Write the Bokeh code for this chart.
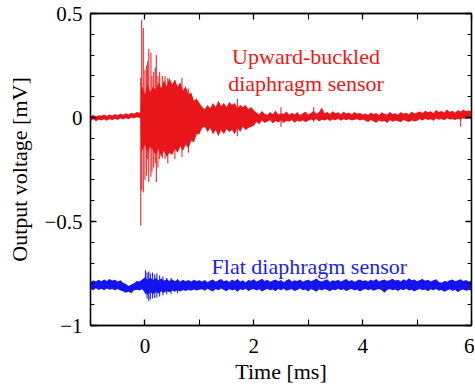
from bokeh.plotting import figure
from bokeh.models import Range1d, LinearAxis, FixedTicker
from bokeh.core.properties import value
from bokeh.embed import file_html
from bokeh.resources import INLINE

# ---------------- data (time in ms, voltage in mV) ----------------
# Upward-buckled sensor: upper / lower envelope of the dense trace
red_t = [-1.00, -0.95, -0.90, -0.85, -0.80, -0.75, -0.70, -0.65, -0.60, -0.55,
         -0.50, -0.45, -0.40, -0.35, -0.30, -0.25, -0.20, -0.15, -0.10, -0.08,
         -0.07, -0.05,
         0.00, 0.05, 0.10, 0.15, 0.20, 0.25, 0.30, 0.35, 0.40, 0.45,
         0.50, 0.55, 0.60, 0.65, 0.70, 0.75, 0.80, 0.85, 0.90, 0.95,
         1.00, 1.05, 1.10, 1.15, 1.20, 1.25, 1.30, 1.35, 1.40, 1.45,
         1.50, 1.55, 1.60, 1.65, 1.70, 1.75, 1.80, 1.85, 1.90, 1.95,
         2.00, 2.05, 2.10, 2.15, 2.20, 2.25, 2.30, 2.35, 2.40, 2.45,
         2.50, 2.55, 2.60, 2.65, 2.70, 2.75, 2.80, 2.85, 2.90, 2.95,
         3.00, 3.05, 3.10, 3.15, 3.20, 3.25, 3.30, 3.35, 3.40, 3.45,
         3.50, 3.55, 3.60, 3.65, 3.70, 3.75, 3.80, 3.85, 3.90, 3.95,
         4.00, 4.05, 4.10, 4.15, 4.20, 4.25, 4.30, 4.35, 4.40, 4.45,
         4.50, 4.55, 4.60, 4.65, 4.70, 4.75, 4.80, 4.85, 4.90, 4.95,
         5.00, 5.05, 5.10, 5.15, 5.20, 5.25, 5.30, 5.35, 5.40, 5.45,
         5.50, 5.55, 5.60, 5.65, 5.70, 5.75, 5.80, 5.85, 5.90, 5.95, 6.00]
red_hi = [0.006, 0.013, 0.004, 0.011, 0.008, 0.015, 0.007, 0.014, 0.010, 0.017,
          0.011, 0.019, 0.012, 0.021, 0.015, 0.023, 0.018, 0.026, 0.023, 0.026,
          0.13, 0.15,
          0.11, 0.16, 0.12, 0.15, 0.13, 0.17, 0.14, 0.18, 0.15, 0.19,
          0.16, 0.18, 0.15, 0.17, 0.13, 0.15, 0.11, 0.12, 0.08, 0.09,
          0.07, 0.05, 0.04, 0.06, 0.045, 0.07, 0.05, 0.08, 0.055, 0.07,
          0.05, 0.075, 0.06, 0.07, 0.045, 0.06, 0.05, 0.06, 0.04, 0.05,
          0.035, 0.024, 0.015, 0.031, 0.018, 0.012, 0.027, 0.016, 0.034, 0.014,
          0.021, 0.017, 0.029, 0.013, 0.023, 0.015, 0.026, 0.011, 0.021, 0.028,
          0.015, 0.022, 0.032, 0.018, 0.026, 0.048, 0.020, 0.027, 0.017, 0.030,
          0.021, 0.025, 0.016, 0.028, 0.019, 0.024, 0.014, 0.026, 0.018, 0.022,
          0.015, 0.019, 0.012, 0.024, 0.016, 0.022, 0.011, 0.025, 0.018, 0.014,
          0.027, 0.017, 0.021, 0.013, 0.026, 0.018, 0.023, 0.015, 0.029, 0.019,
          0.024, 0.029, 0.022, 0.033, 0.025, 0.030, 0.021, 0.036, 0.027, 0.031,
          0.024, 0.038, 0.027, 0.032, 0.023, 0.036, 0.028, 0.039, 0.030, 0.034, 0.031]
red_lo = [-0.017, -0.009, -0.018, -0.011, -0.015, -0.008, -0.016, -0.007, -0.013, -0.006,
          -0.012, -0.004, -0.010, -0.003, -0.008, 0.000, -0.005, 0.002, -0.003, -0.003,
          -0.14, -0.16,
          -0.13, -0.17, -0.14, -0.16, -0.18, -0.15, -0.19, -0.16, -0.19, -0.17,
          -0.18, -0.15, -0.17, -0.14, -0.16, -0.13, -0.15, -0.11, -0.12, -0.08,
          -0.08, -0.05, -0.045, -0.07, -0.05, -0.08, -0.06, -0.09, -0.06, -0.08,
          -0.055, -0.07, -0.06, -0.08, -0.05, -0.07, -0.045, -0.06, -0.05, -0.045,
          -0.04, -0.022, -0.032, -0.015, -0.027, -0.019, -0.013, -0.029, -0.017, -0.024,
          -0.014, -0.027, -0.016, -0.021, -0.012, -0.025, -0.016, -0.020, -0.013, -0.023,
          -0.016, -0.010, -0.016, -0.007, -0.019, -0.011, -0.014, -0.008, -0.017, -0.010,
          -0.013, -0.006, -0.016, -0.009, -0.013, -0.008, -0.015, -0.011, -0.009, -0.014,
          -0.010, -0.016, -0.022, -0.012, -0.019, -0.025, -0.014, -0.020, -0.017, -0.027,
          -0.013, -0.021, -0.015, -0.018, -0.023, -0.012, -0.017, -0.022, -0.014, -0.019,
          -0.016, -0.009, -0.014, -0.006, -0.012, -0.008, -0.016, -0.005, -0.011, -0.007,
          -0.013, -0.004, -0.010, -0.008, -0.012, -0.006, -0.011, -0.003, -0.009, -0.005, -0.007]

# Upward-buckled sensor: isolated large swings
red_spike_t = [-0.077, -0.06, -0.03, 0.00, 0.03, 0.05, 0.07, 0.11, 0.13, 0.16,
               0.19, 0.21, 0.24, 0.27, 0.32, 0.37, 0.42, 0.55, 0.68, 0.80,
               1.70, 2.50, 3.10, 5.80]
red_spike_hi = [0.19, 0.47, 0.43, 0.23, 0.25, 0.27, 0.33, 0.31, 0.20, 0.22,
                0.24, 0.30, 0.20, 0.22, 0.20, 0.20, 0.19, 0.18, 0.19, 0.14,
                0.09, 0.05, 0.05, 0.03]
red_spike_lo = [-0.52, -0.35, -0.36, -0.30, -0.28, -0.20, -0.31, -0.285, -0.26, -0.24,
                -0.22, -0.31, -0.24, -0.20, -0.195, -0.20, -0.22, -0.20, -0.19, -0.17,
                -0.09, -0.045, -0.02, -0.045]

# Flat sensor: upper / lower envelope of the dense trace
blue_t = [-1.00, -0.95, -0.90, -0.85, -0.80, -0.75, -0.70, -0.65, -0.60, -0.55,
          -0.50, -0.45, -0.40, -0.35, -0.30, -0.25, -0.20, -0.15, -0.10, -0.05,
          0.00, 0.05, 0.10, 0.15, 0.20, 0.25, 0.30, 0.35, 0.40, 0.45,
          0.50, 0.55, 0.60, 0.65, 0.70, 0.75, 0.80, 0.85, 0.90, 0.95,
          1.00, 1.05, 1.10, 1.15, 1.20, 1.25, 1.30, 1.35, 1.40, 1.45,
          1.50, 1.55, 1.60, 1.65, 1.70, 1.75, 1.80, 1.85, 1.90, 1.95,
          2.00, 2.05, 2.10, 2.15, 2.20, 2.25, 2.30, 2.35, 2.40, 2.45,
          2.50, 2.55, 2.60, 2.65, 2.70, 2.75, 2.80, 2.85, 2.90, 2.95,
          3.00, 3.05, 3.10, 3.15, 3.20, 3.25, 3.30, 3.35, 3.40, 3.45,
          3.50, 3.55, 3.60, 3.65, 3.70, 3.75, 3.80, 3.85, 3.90, 3.95,
          4.00, 4.05, 4.10, 4.15, 4.20, 4.25, 4.30, 4.35, 4.40, 4.45,
          4.50, 4.55, 4.60, 4.65, 4.70, 4.75, 4.80, 4.85, 4.90, 4.95,
          5.00, 5.05, 5.10, 5.15, 5.20, 5.25, 5.30, 5.35, 5.40, 5.45,
          5.50, 5.55, 5.60, 5.65, 5.70, 5.75, 5.80, 5.85, 5.90, 5.95, 6.00]
blue_hi = [-0.792, -0.783, -0.789, -0.780, -0.787, -0.779, -0.786, -0.776, -0.784, -0.780,
           -0.789, -0.783, -0.794, -0.801, -0.810, -0.803, -0.797, -0.786, -0.788, -0.779,
           -0.768, -0.780, -0.770, -0.781, -0.772, -0.783, -0.774, -0.785, -0.776, -0.786,
           -0.778, -0.787, -0.779, -0.788, -0.780, -0.787, -0.781, -0.788, -0.780, -0.786,
           -0.782, -0.788, -0.781, -0.792, -0.784, -0.779, -0.790, -0.783, -0.776, -0.787,
           -0.782, -0.791, -0.780, -0.786, -0.777, -0.789, -0.783, -0.793, -0.781, -0.785,
           -0.778, -0.788, -0.782, -0.775, -0.786, -0.780, -0.790, -0.784, -0.779, -0.787,
           -0.781, -0.792, -0.783, -0.777, -0.788, -0.782, -0.786, -0.779, -0.790, -0.784,
           -0.780, -0.787, -0.781, -0.774, -0.785, -0.789, -0.782, -0.778, -0.791, -0.783,
           -0.786, -0.780, -0.788, -0.782, -0.776, -0.787, -0.781, -0.790, -0.784, -0.779,
           -0.786, -0.782, -0.789, -0.780, -0.785, -0.777, -0.788, -0.783, -0.779, -0.786,
           -0.781, -0.775, -0.784, -0.780, -0.788, -0.778, -0.785, -0.773, -0.783, -0.779,
           -0.787, -0.781, -0.776, -0.785, -0.780, -0.789, -0.783, -0.778, -0.791, -0.795,
           -0.786, -0.790, -0.783, -0.779, -0.787, -0.782, -0.778, -0.786, -0.781, -0.789, -0.784]
blue_lo = [-0.824, -0.831, -0.821, -0.829, -0.823, -0.830, -0.822, -0.828, -0.825, -0.831,
           -0.824, -0.832, -0.836, -0.842, -0.838, -0.845, -0.831, -0.828, -0.832, -0.826,
           -0.842, -0.851, -0.840, -0.849, -0.839, -0.846, -0.836, -0.843, -0.834, -0.840,
           -0.832, -0.838, -0.830, -0.836, -0.829, -0.834, -0.828, -0.833, -0.827, -0.832,
           -0.828, -0.826, -0.833, -0.823, -0.830, -0.837, -0.825, -0.831, -0.822, -0.829,
           -0.835, -0.824, -0.832, -0.827, -0.838, -0.826, -0.830, -0.823, -0.834, -0.828,
           -0.825, -0.832, -0.826, -0.836, -0.829, -0.824, -0.831, -0.827, -0.835, -0.825,
           -0.830, -0.823, -0.833, -0.828, -0.826, -0.834, -0.829, -0.822, -0.831, -0.827,
           -0.836, -0.825, -0.830, -0.838, -0.826, -0.832, -0.824, -0.829, -0.835, -0.827,
           -0.831, -0.823, -0.830, -0.826, -0.834, -0.828, -0.825, -0.832, -0.827, -0.837,
           -0.829, -0.824, -0.831, -0.826, -0.833, -0.828, -0.824, -0.830, -0.843, -0.829,
           -0.825, -0.831, -0.827, -0.834, -0.826, -0.830, -0.823, -0.832, -0.828, -0.836,
           -0.829, -0.825, -0.831, -0.827, -0.835, -0.826, -0.830, -0.824, -0.833, -0.829,
           -0.838, -0.832, -0.826, -0.834, -0.828, -0.840, -0.830, -0.827, -0.833, -0.829, -0.831]

# Flat sensor: isolated swings in the burst
blue_spike_t = [0.01, 0.04, 0.07, 0.10, 0.14, 0.18, 0.22, 0.27, 0.33, 0.40, 0.48, 0.60]
blue_spike_hi = [-0.734, -0.745, -0.740, -0.750, -0.745, -0.755, -0.750, -0.760, -0.765, -0.770, -0.772, -0.776]
blue_spike_lo = [-0.850, -0.870, -0.882, -0.875, -0.870, -0.868, -0.865, -0.860, -0.855, -0.850, -0.848, -0.845]

x_major = [0, 2, 4, 6]
x_minor = [-1, 1, 3, 5]
y_major = [-1, -0.5, 0, 0.5]
y_minor = [-0.9, -0.8, -0.7, -0.6, -0.4, -0.3, -0.2, -0.1, 0.1, 0.2, 0.3, 0.4]
y_labels = {-1: "\u22121", -0.5: "\u22120.5", 0: "0", 0.5: "0.5"}

RED = "#e8161b"
BLUE = "#1414ee"
FONT = "Liberation Serif"

p = figure(width=474, height=386, output_backend="svg", toolbar_location=None,
           x_range=Range1d(-1, 6), y_range=Range1d(-1, 0.5),
           min_border_left=90, min_border_top=13, min_border_right=3, min_border_bottom=58,
           x_axis_label="Time [ms]", y_axis_label="Output voltage [mV]")
p.xgrid.visible = False
p.ygrid.visible = False
p.outline_line_color = "black"
p.outline_line_width = 1.3
p.background_fill_color = "white"
p.border_fill_color = "white"

# traces
p.varea(x=red_t, y1=red_lo, y2=red_hi, fill_color=RED)
p.segment(x0=red_spike_t, y0=red_spike_lo, x1=red_spike_t, y1=red_spike_hi,
          line_color=RED, line_width=1.2, line_alpha=0.85)
p.varea(x=blue_t, y1=blue_lo, y2=blue_hi, fill_color=BLUE)
p.segment(x0=blue_spike_t, y0=blue_spike_lo, x1=blue_spike_t, y1=blue_spike_hi,
          line_color=BLUE, line_width=1.2, line_alpha=0.9)

# annotations
p.text(x=[2.96, 2.96], y=[0.292, 0.164], text=["Upward-buckled", "diaphragm sensor"],
       text_font=value(FONT), text_font_size="22px", text_color="#f01616",
       text_align="center", text_baseline="middle")
p.text(x=[3.02], y=[-0.716], text=["Flat diaphragm sensor"],
       text_font=value(FONT), text_font_size="22px", text_color="#1c1cf5",
       text_align="center", text_baseline="middle")

def style_axis(ax, ticks, minor, show_labels, overrides=None):
    ax.ticker = FixedTicker(ticks=ticks, minor_ticks=minor)
    ax.major_tick_in = 6
    ax.major_tick_out = 0
    ax.minor_tick_in = 4
    ax.minor_tick_out = 0
    ax.major_tick_line_width = 1.3
    ax.minor_tick_line_width = 1.1
    ax.axis_line_width = 1.3
    ax.axis_line_color = "black"
    ax.major_label_text_font = FONT
    ax.major_label_text_color = "black"
    if show_labels:
        ax.major_label_text_font_size = "21px"
        ax.major_label_standoff = 8
        if overrides:
            ax.major_label_overrides = overrides
    else:
        ax.major_label_text_font_size = "1px"
        ax.major_label_standoff = 0
        ax.major_label_overrides = {t: "" for t in ticks}

xa = p.xaxis[0]
ya = p.yaxis[0]
style_axis(xa, x_major, x_minor, True)
xa.minor_tick_in = 6
xa.major_label_standoff = 13
style_axis(ya, y_major, y_minor, True, y_labels)
ya.major_label_orientation = "horizontal"
for ax in (xa, ya):
    ax.axis_label_text_font = FONT
    ax.axis_label_text_font_size = "22px"
    ax.axis_label_text_font_style = "normal"
    ax.axis_label_text_color = "black"
xa.axis_label_standoff = 3
ya.axis_label_standoff = 9

top = LinearAxis()
style_axis(top, x_major, x_minor, False)
top.minor_tick_in = 6
p.add_layout(top, "above")
right = LinearAxis()
style_axis(right, y_major, y_minor, False)
p.add_layout(right, "right")

open("out.html", "w").write(file_html(p, INLINE))
